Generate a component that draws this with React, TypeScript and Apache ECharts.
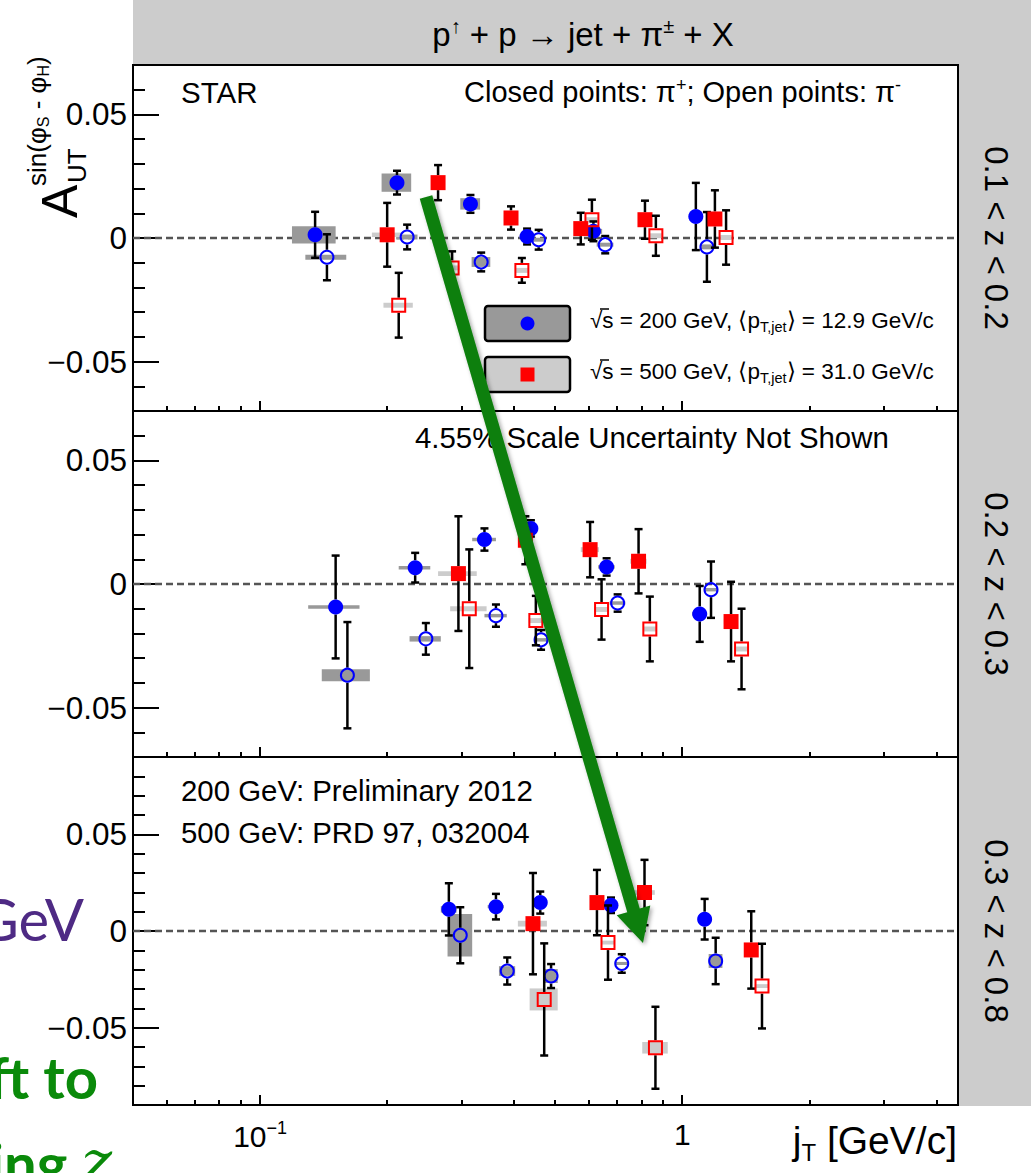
import React, { useEffect, useRef } from "react";
import * as echarts from "echarts";

// Columns: jT [GeV/c], A_UT, stat. error, jT syst. half-width, A_UT syst. half-height
// 0.1 < z < 0.2
const z1Pip200 = [
  [0.135, 0.0013, 0.0093, 0.016, 0.0035],
  [0.211, 0.0224, 0.0048, 0.017, 0.0037],
  [0.315, 0.0138, 0.0036, 0.017, 0.0023],
  [0.429, 0.0006, 0.0032, 0.017, 0.0008],
  [0.616, 0.0027, 0.004, 0.03, 0.001],
  [1.077, 0.0087, 0.0136, 0.04, 0.001],
];
const z1Pim200 = [
  [0.144, -0.0078, 0.0093, 0.016, 0.001],
  [0.223, 0.0004, 0.005, 0.013, 0.001],
  [0.334, -0.0097, 0.0038, 0.017, 0.002],
  [0.457, -0.0007, 0.004, 0.017, 0.0008],
  [0.657, -0.0027, 0.0035, 0.03, 0.0008],
  [1.144, -0.0036, 0.0141, 0.04, 0.001],
];
const z1Pip500 = [
  [0.2, 0.0013, 0.0129, 0.016, 0.0009],
  [0.264, 0.0224, 0.0071, 0.01, 0.001],
  [0.393, 0.0081, 0.0047, 0.015, 0.001],
  [0.575, 0.0038, 0.0064, 0.02, 0.001],
  [0.816, 0.0074, 0.0077, 0.03, 0.001],
  [1.195, 0.0077, 0.0116, 0.04, 0.001],
];
const z1Pim500 = [
  [0.213, -0.0272, 0.0131, 0.017, 0.001],
  [0.285, -0.0121, 0.0067, 0.012, 0.001],
  [0.417, -0.0131, 0.005, 0.014, 0.001],
  [0.611, 0.0074, 0.0081, 0.02, 0.001],
  [0.866, 0.0009, 0.0081, 0.03, 0.001],
  [1.27, 0.0002, 0.011, 0.04, 0.001],
];
// 0.2 < z < 0.3
const z2Pip200 = [
  [0.151, -0.0093, 0.0208, 0.021, 0.0007],
  [0.233, 0.0066, 0.006, 0.02, 0.0007],
  [0.34, 0.018, 0.0045, 0.022, 0.0007],
  [0.438, 0.0225, 0.0033, 0.017, 0.0007],
  [0.662, 0.0069, 0.0035, 0.03, 0.0007],
  [1.1, -0.0121, 0.0113, 0.045, 0.0007],
];
const z2Pim200 = [
  [0.161, -0.0369, 0.0215, 0.021, 0.0024],
  [0.247, -0.0222, 0.0064, 0.021, 0.0011],
  [0.362, -0.0128, 0.0045, 0.022, 0.0007],
  [0.463, -0.0226, 0.004, 0.017, 0.0007],
  [0.703, -0.0077, 0.0035, 0.03, 0.0007],
  [1.17, -0.0023, 0.0114, 0.045, 0.0007],
];
const z2Pip500 = [
  [0.295, 0.0042, 0.0232, 0.031, 0.001],
  [0.425, 0.0177, 0.0097, 0.015, 0.001],
  [0.605, 0.0139, 0.0112, 0.03, 0.001],
  [0.788, 0.0092, 0.013, 0.035, 0.001],
  [1.305, -0.0152, 0.0161, 0.05, 0.001],
];
const z2Pim500 = [
  [0.313, -0.01, 0.024, 0.031, 0.001],
  [0.45, -0.0148, 0.01, 0.017, 0.001],
  [0.644, -0.0103, 0.0122, 0.025, 0.001],
  [0.838, -0.0182, 0.0131, 0.03, 0.001],
  [1.382, -0.0263, 0.0163, 0.05, 0.001],
];
// 0.3 < z < 0.8
const z3Pip200 = [
  [0.28, 0.0112, 0.0135, 0.012, 0.0017],
  [0.362, 0.0126, 0.0066, 0.016, 0.0008],
  [0.461, 0.0147, 0.0057, 0.015, 0.0008],
  [0.678, 0.0133, 0.004, 0.02, 0.0008],
  [1.13, 0.0061, 0.0105, 0.04, 0.0008],
];
const z3Pim200 = [
  [0.298, -0.0022, 0.0145, 0.02, 0.011],
  [0.385, -0.0207, 0.007, 0.017, 0.0025],
  [0.489, -0.0233, 0.0062, 0.018, 0.0036],
  [0.719, -0.0168, 0.0048, 0.027, 0.0008],
  [1.2, -0.0155, 0.012, 0.045, 0.0036],
];
const z3Pip500 = [
  [0.443, 0.0038, 0.0262, 0.035, 0.0015],
  [0.628, 0.0147, 0.0169, 0.02, 0.001],
  [0.814, 0.0199, 0.0169, 0.047, 0.0012],
  [1.457, -0.0098, 0.02, 0.05, 0.001],
];
const z3Pim500 = [
  [0.471, -0.0354, 0.029, 0.036, 0.0057],
  [0.667, -0.006, 0.0192, 0.025, 0.001],
  [0.864, -0.0604, 0.0212, 0.06, 0.003],
  [1.545, -0.0285, 0.0219, 0.06, 0.001],
];

const zBinLabels = ["0.1 < z < 0.2", "0.2 < z < 0.3", "0.3 < z < 0.8"];
const X_MIN = 0.05;
const X_MAX = 4.5;
const yRanges = [
  [-0.07, 0.07],
  [-0.07, 0.07],
  [-0.09, 0.09],
];
const yMajorTicks = [-0.05, 0, 0.05];
const yMinorTicks = [
  -0.09, -0.08, -0.07, -0.06, -0.04, -0.03, -0.02, -0.01, 0.01, 0.02, 0.03,
  0.04, 0.06, 0.07, 0.08, 0.09,
];
const xMajorTicks = [0.1, 1];
const xMinorTicks = [
  0.06, 0.07, 0.08, 0.09, 0.2, 0.3, 0.4, 0.5, 0.6, 0.7, 0.8, 0.9, 2, 3, 4,
];

const FONT = '"Liberation Sans", Arial, Helvetica, sans-serif';
const SLIDE_FONT = "Lato, 'Open Sans', sans-serif";

const panels = [
  { top: 65, height: 346 },
  { top: 411, height: 346 },
  { top: 757, height: 348 },
];
const PLOT_LEFT = 133;
const PLOT_WIDTH = 825;

const beamStyle: Record<number, { color: string; marker: string; box: string }> = {
  200: { color: "#0000ff", marker: "circle", box: "#999999" },
  500: { color: "#ff0000", marker: "square", box: "#cccccc" },
};

const groups = [
  { panel: 0, rows: z1Pip200, beam: 200, filled: true },
  { panel: 0, rows: z1Pim200, beam: 200, filled: false },
  { panel: 0, rows: z1Pip500, beam: 500, filled: true },
  { panel: 0, rows: z1Pim500, beam: 500, filled: false },
  { panel: 1, rows: z2Pip200, beam: 200, filled: true },
  { panel: 1, rows: z2Pim200, beam: 200, filled: false },
  { panel: 1, rows: z2Pip500, beam: 500, filled: true },
  { panel: 1, rows: z2Pim500, beam: 500, filled: false },
  { panel: 2, rows: z3Pip200, beam: 200, filled: true },
  { panel: 2, rows: z3Pim200, beam: 200, filled: false },
  { panel: 2, rows: z3Pip500, beam: 500, filled: true },
  { panel: 2, rows: z3Pim500, beam: 500, filled: false },
];

const MARK_R = 7.5;

function boxRenderer(fill: string) {
  return (params: any, api: any) => {
    const x = api.value(0);
    const y = api.value(1);
    const sx = api.value(3);
    const sy = api.value(4);
    const lo = api.coord([x - sx, y - sy]);
    const hi = api.coord([x + sx, y + sy]);
    return {
      type: "rect",
      shape: { x: lo[0], y: hi[1], width: hi[0] - lo[0], height: lo[1] - hi[1] },
      style: { fill },
    };
  };
}

function pointRenderer(color: string, marker: string, filled: boolean) {
  return (params: any, api: any) => {
    const x = api.value(0);
    const y = api.value(1);
    const e = api.value(2);
    const c = api.coord([x, y]);
    const top = api.coord([x, y + e])[1];
    const bot = api.coord([x, y - e])[1];
    const ls = { stroke: "#000", lineWidth: 2.5 };
    const children: any[] = [];
    const gap = MARK_R;
    if (top < c[1] - gap) {
      children.push({ type: "line", shape: { x1: c[0], y1: c[1] - gap, x2: c[0], y2: top }, style: ls });
      children.push({ type: "line", shape: { x1: c[0] - 4, y1: top, x2: c[0] + 4, y2: top }, style: ls });
    }
    if (bot > c[1] + gap) {
      children.push({ type: "line", shape: { x1: c[0], y1: c[1] + gap, x2: c[0], y2: bot }, style: ls });
      children.push({ type: "line", shape: { x1: c[0] - 4, y1: bot, x2: c[0] + 4, y2: bot }, style: ls });
    }
    const st = filled
      ? { fill: color, stroke: color, lineWidth: 0 }
      : { fill: "none", stroke: color, lineWidth: 2 };
    const h = filled ? MARK_R : MARK_R - 1;
    if (marker === "circle") {
      children.push({ type: "circle", shape: { cx: c[0], cy: c[1], r: h }, style: st });
    } else {
      children.push({ type: "rect", shape: { x: c[0] - h, y: c[1] - h, width: 2 * h, height: 2 * h }, style: st });
    }
    return { type: "group", children };
  };
}

function buildOption() {
  const grid = panels.map((p) => ({
    left: PLOT_LEFT,
    width: PLOT_WIDTH,
    top: p.top,
    height: p.height,
    show: true,
    borderColor: "#000",
    borderWidth: 2,
    backgroundColor: "transparent",
  }));

  const xAxis: any[] = [];
  const yAxis: any[] = [];
  panels.forEach((p, i) => {
    const common = {
      type: "log",
      logBase: 10,
      gridIndex: i,
      min: X_MIN,
      max: X_MAX,
      position: "bottom",
      axisLine: { show: false, onZero: false },
      splitLine: { show: false },
      minorTick: { show: false },
    };
    xAxis.push({
      ...common,
      axisTick: { show: true, inside: true, length: 10, lineStyle: { color: "#000", width: 2 }, customValues: xMajorTicks },
      axisLabel: {
        show: i === 2,
        customValues: xMajorTicks,
        formatter: (v: number) => (v < 0.5 ? "10{sup|−1}" : "1"),
        rich: { sup: { fontSize: 18, fontFamily: FONT, color: "#000", padding: [0, 0, 16, 0] } },
        fontSize: 30,
        fontFamily: FONT,
        color: "#000",
        margin: 14,
      },
    });
    xAxis.push({
      ...common,
      axisTick: { show: true, inside: true, length: 5, lineStyle: { color: "#000", width: 2 }, customValues: xMinorTicks },
      axisLabel: { show: false },
    });
    const yc = {
      type: "value",
      gridIndex: i,
      min: yRanges[i][0],
      max: yRanges[i][1],
      position: "left",
      axisLine: { show: false, onZero: false },
      splitLine: { show: false },
      minorTick: { show: false },
    };
    yAxis.push({
      ...yc,
      axisTick: { show: true, inside: true, length: 26, lineStyle: { color: "#000", width: 2 }, customValues: yMajorTicks },
      axisLabel: {
        show: true,
        customValues: yMajorTicks,
        formatter: (v: number) => (v === 0 ? "0" : v > 0 ? "0.05" : "−0.05"),
        fontSize: 31.5,
        fontFamily: FONT,
        color: "#000",
        margin: 6,
      },
    });
    yAxis.push({
      ...yc,
      axisTick: { show: true, inside: true, length: 12, lineStyle: { color: "#000", width: 2 }, customValues: yMinorTicks },
      axisLabel: { show: false },
    });
  });

  const series: any[] = [];
  groups.forEach((g, k) => {
    const s = beamStyle[g.beam];
    const base = {
      type: "custom",
      coordinateSystem: "cartesian2d",
      xAxisIndex: 2 * g.panel,
      yAxisIndex: 2 * g.panel,
      data: g.rows,
      encode: { x: 0, y: 1 },
      clip: true,
      silent: true,
    };
    const boxSeries: any = { ...base, z: 1, renderItem: boxRenderer(s.box) };
    if (k % 4 === 0) {
      boxSeries.markLine = {
        silent: true,
        symbol: ["none", "none"],
        label: { show: false },
        lineStyle: { color: "#555", width: 2.4, type: [7, 4] },
        data: [{ yAxis: 0 }],
        z: 1,
      };
    }
    series.push(boxSeries);
    series.push({ ...base, z: 3, renderItem: pointRenderer(s.color, s.marker, g.filled) });
  });

  // arrow geometry
  const from = [426, 197];
  const to = [643, 943];
  const len = Math.hypot(to[0] - from[0], to[1] - from[1]);
  const u = [(to[0] - from[0]) / len, (to[1] - from[1]) / len];
  const n = [-u[1], u[0]];
  const sh = 6.5;
  const hl = 34;
  const hh = 17.5;
  const b = [to[0] - u[0] * hl, to[1] - u[1] * hl];
  const arrowPts = [
    [from[0] + n[0] * sh, from[1] + n[1] * sh],
    [b[0] + n[0] * sh, b[1] + n[1] * sh],
    [b[0] + n[0] * hh, b[1] + n[1] * hh],
    to,
    [b[0] - n[0] * hh, b[1] - n[1] * hh],
    [b[0] - n[0] * sh, b[1] - n[1] * sh],
    [from[0] - n[0] * sh, from[1] - n[1] * sh],
  ];

  const txt = (x: number, y: number, text: string, size: number, extra: any = {}) => ({
    type: "text",
    x,
    y,
    z: 50,
    style: { text, fontSize: size, fontFamily: FONT, fill: "#000", align: "left", verticalAlign: "middle", ...extra },
  });

  const graphic: any[] = [
    // header and side strip
    { type: "rect", z: -10, shape: { x: 133, y: 0, width: 898, height: 64 }, style: { fill: "#cccccc" } },
    { type: "rect", z: -10, shape: { x: 959, y: 64, width: 72, height: 1042 }, style: { fill: "#cccccc" } },
    txt(583, 34, "p{sup|↑} + p → jet + π{sup|±} + X", 33, {
      align: "center",
      rich: { sup: { fontSize: 20, fontFamily: FONT, padding: [0, 0, 17, 0] } },
    }),
    ...zBinLabels.map((label, i) => ({
      type: "text",
      x: 996,
      y: panels[i].top + panels[i].height / 2,
      rotation: -Math.PI / 2,
      z: 50,
      style: { text: label, fontSize: 33, fontFamily: FONT, fill: "#000", align: "center", verticalAlign: "middle" },
    })),
    // y-axis title
    {
      type: "group",
      x: 60,
      y: 218,
      rotation: Math.PI / 2,
      z: 50,
      children: [
        { type: "text", x: 0, y: 0, style: { text: "A", fontSize: 50, fontFamily: FONT, fill: "#000", align: "left", verticalAlign: "middle" } },
        { type: "text", x: 35, y: 17, style: { text: "UT", fontSize: 26, fontFamily: FONT, fill: "#000", align: "left", verticalAlign: "middle" } },
        {
          type: "text",
          x: 32,
          y: -23,
          style: {
            text: "sin(φ{s|S} - φ{s|H})",
            fontSize: 26,
            fontFamily: FONT,
            fill: "#000",
            align: "left",
            verticalAlign: "middle",
            rich: { s: { fontSize: 16, fontFamily: FONT, padding: [13, 0, 0, 0] } },
          },
        },
      ],
    },
    // panel annotations
    txt(181, 92, "STAR", 29.5),
    txt(901, 92, "Closed points: π{sup|+}; Open points: π{sup|-}", 29, {
      align: "right",
      rich: { sup: { fontSize: 18, fontFamily: FONT, padding: [0, 0, 15, 0] } },
    }),
    txt(415, 437, "4.55% Scale Uncertainty Not Shown", 29.4),
    txt(181, 790, "200 GeV: Preliminary 2012", 29.4),
    txt(181, 832, "500 GeV: PRD 97, 032004", 29.4),
    // legend
    { type: "rect", z: 50, shape: { x: 485, y: 306, width: 85, height: 35, r: 3 }, style: { fill: "#999999", stroke: "#000", lineWidth: 2.5 } },
    { type: "circle", z: 51, shape: { cx: 527.5, cy: 323.5, r: 7 }, style: { fill: "#0000ff" } },
    { type: "rect", z: 50, shape: { x: 485, y: 357, width: 85, height: 35, r: 3 }, style: { fill: "#cccccc", stroke: "#000", lineWidth: 2.5 } },
    { type: "rect", z: 51, shape: { x: 520.5, y: 367.5, width: 14, height: 14 }, style: { fill: "#ff0000" } },
    txt(590, 320, "√s = 200 GeV, ⟨p{sub|T,jet}⟩ = 12.9 GeV/c", 22.5, {
      rich: { sub: { fontSize: 14.5, fontFamily: FONT, padding: [14, 0, 0, 0] } },
    }),
    txt(590, 371, "√s = 500 GeV, ⟨p{sub|T,jet}⟩ = 31.0 GeV/c", 22.5, {
      rich: { sub: { fontSize: 14.5, fontFamily: FONT, padding: [14, 0, 0, 0] } },
    }),
    // overline of the square-root signs
    { type: "line", z: 51, shape: { x1: 600, y1: 309, x2: 609, y2: 309 }, style: { stroke: "#000", lineWidth: 1.5 } },
    { type: "line", z: 51, shape: { x1: 600, y1: 360, x2: 609, y2: 360 }, style: { stroke: "#000", lineWidth: 1.5 } },
    // x-axis title
    txt(957, 1140, "j{sub|T} [GeV/c]", 39, {
      align: "right",
      rich: { sub: { fontSize: 24, fontFamily: FONT, padding: [24, 0, 0, 0] } },
    }),
    // slide text around the figure
    {
      type: "text",
      x: 84,
      y: 918,
      z: 5,
      style: { text: "GeV", fontSize: 58, fontFamily: SLIDE_FONT, fill: "#4e2a84", align: "right", verticalAlign: "middle" },
    },
    {
      type: "text",
      x: 98,
      y: 1076,
      z: 5,
      style: { text: "ft to", fontSize: 58, fontWeight: "bold", fontFamily: SLIDE_FONT, fill: "#0a8a0a", align: "right", verticalAlign: "middle" },
    },
    {
      type: "text",
      x: 112,
      y: 1162,
      z: 5,
      style: {
        text: "ing {z|z}",
        fontSize: 58,
        fontWeight: "bold",
        fontFamily: SLIDE_FONT,
        fill: "#0a8a0a",
        align: "right",
        verticalAlign: "middle",
        rich: { z: { fontSize: 58, fontStyle: "italic", fontWeight: "normal", fontFamily: "'DejaVu Serif', 'Liberation Serif', serif", fill: "#0a8a0a" } },
      },
    },
    // green arrow
    {
      type: "polygon",
      z: 100,
      shape: { points: arrowPts },
      style: { fill: "#0a7f0a", shadowBlur: 4, shadowColor: "rgba(0,0,0,0.35)", shadowOffsetX: 2, shadowOffsetY: 2 },
    },
  ];

  return { animation: false, backgroundColor: "#ffffff", grid, xAxis, yAxis, series, graphic };
}

export default function App() {
  const ref = useRef<HTMLDivElement>(null);
  useEffect(() => {
    if (!ref.current) return;
    const chart = echarts.init(ref.current, null, { renderer: "svg" });
    chart.setOption(buildOption() as any);
    return () => chart.dispose();
  }, []);
  return (
    <div
      ref={ref}
      style={{ position: "fixed", left: 0, top: 0, width: 1031, height: 1173, background: "#fff" }}
    />
  );
}
